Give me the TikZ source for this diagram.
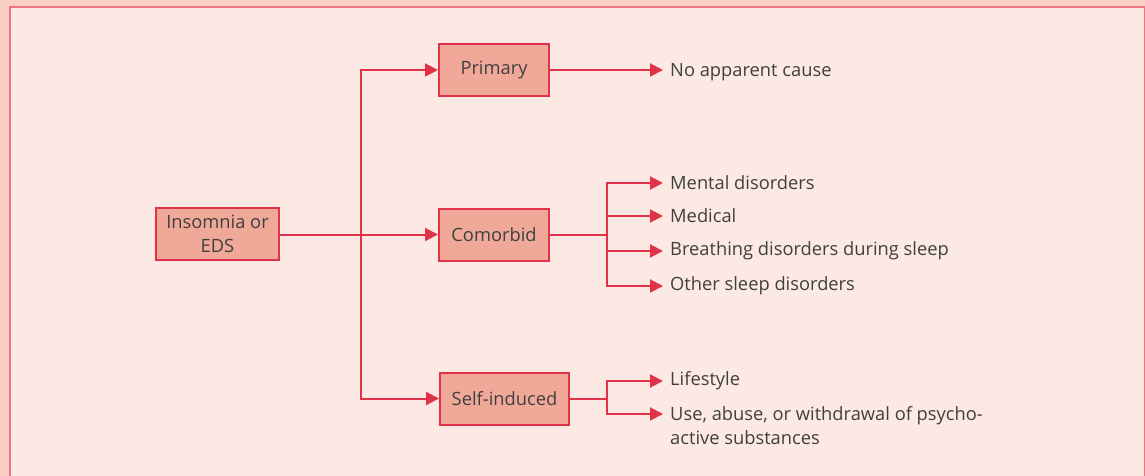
\documentclass[tikz,border=0pt]{standalone}
\usepackage{fontspec}
\setmainfont{Open Sans}
\usetikzlibrary{arrows.meta,calc}
\definecolor{bgpink}{HTML}{FCE9E3}
\definecolor{bandpink}{HTML}{F9CFC6}
\definecolor{edgered}{HTML}{EE7480}
\definecolor{linered}{HTML}{E0334A}
\definecolor{boxfill}{HTML}{F0A999}
\definecolor{txt}{HTML}{3F3F3F}
\tikzset{
  catbox/.style={draw=linered, line width=2pt, fill=boxfill, minimum height=52pt, inner xsep=6pt, align=center, text=txt, font=\fontsize{18.3}{24}\selectfont},
  label/.style={anchor=west, inner xsep=7pt, inner ysep=0pt, text=txt, align=left, font=\fontsize{18.3}{24}\selectfont},
  conn/.style={draw=linered, line width=2pt},
  arr/.style={conn, -{Triangle[length=13pt,width=13pt]}}
}
\begin{document}
\begin{tikzpicture}[x=1pt,y=-1pt]
\useasboundingbox (0,0) rectangle (1145,476);
\fill[bgpink] (0,0) rectangle (1145,476);
\fill[bandpink] (0,0) rectangle (1145,6);
\fill[bandpink] (0,0) rectangle (9,476);
\draw[edgered, line width=2pt] (10,476) -- (10,7) -- (1145,7);
\draw[edgered, line width=1pt] (1144.5,7) -- (1144.5,476);

\node[catbox, minimum width=123pt] (ins) at (217.5,233.5) {Insomnia or\\EDS};
\node[catbox, minimum width=110pt] (prim) at (494,70) {Primary};
\node[catbox, minimum width=110pt] (com) at (494,234.5) {Comorbid};
\node[catbox, minimum width=129pt] (self) at (504.5,398.5) {Self-induced};

\node[label] (nac) at (663,72) {No apparent cause};
\node[label] (ment) at (663,183) {Mental disorders};
\node[label] (med) at (663,216) {Medical};
\node[label] (breath) at (663,251) {Breathing disorders during sleep};
\node[label] (oth) at (663,286) {Other sleep disorders};
\node[label] (life) at (663,381) {Lifestyle};
\node[label] (use) at (663,426) {Use, abuse, or withdrawal of psycho-\\active substances};

\coordinate (j0) at (361,234.5);
\coordinate (j1) at (607,234.5);
\coordinate (j2) at (607,398.5);
\coordinate (usetip) at ($(use.west)+(0,-12)$);

\draw[conn] (ins.east |- j0) -- (j0);
\draw[arr] (j0) |- (prim.west);
\draw[arr] (j0) -- (com.west);
\draw[arr] (j0) |- (self.west);

\draw[arr] (prim.east) -- (prim.east -| nac.west);

\draw[conn] (com.east) -- (j1);
\draw[arr] (j1) |- (ment.west);
\draw[arr] (j1) |- (med.west);
\draw[arr] (j1) |- (breath.west);
\draw[arr] (j1) |- (oth.west);

\draw[conn] (self.east) -- (j2);
\draw[arr] (j2) |- (life.west);
\draw[arr] (j2) |- (usetip);
\end{tikzpicture}
\end{document}
